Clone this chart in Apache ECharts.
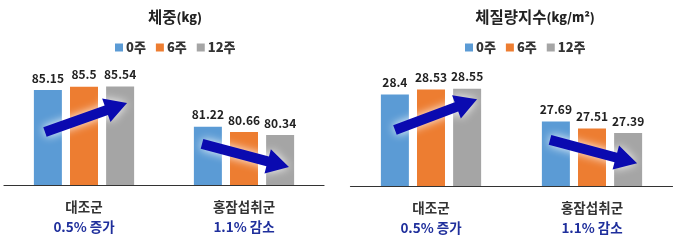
<!DOCTYPE html>
<html><head><meta charset="utf-8">
<script src="https://cdn.jsdelivr.net/npm/echarts@6/dist/echarts.min.js"></script>
<style>html,body{margin:0;padding:0;background:#fff}#c{width:680px;height:240px}</style>
</head><body><div id="c"></div>
<script>
const categories = ['대조군', '홍잠섭취군'];
const changeLabels = ['0.5% 증가', '1.1% 감소'];
const seriesNames = ['0주', '6주', '12주'];
const weight0 = [85.15, 81.22];
const weight6 = [85.5, 80.66];
const weight12 = [85.54, 80.34];
const bmi0 = [28.4, 27.69];
const bmi6 = [28.53, 27.51];
const bmi12 = [28.55, 27.39];
// arrow annotations: [category index, offset in band fraction, value]
const arrowsLeft = [
  [[0, -0.244, 80.67], [0, 0.269, 83.77]],
  [[1, -0.2625, 79.39], [1, 0.281, 76.93]]
];
const arrowsRight = [
  [[0, -0.224, 27.47], [0, 0.286, 28.28]],
  [[1, -0.261, 27.21], [1, 0.28, 26.60]]
];
const colors = ['#5B9BD5', '#ED7D31', '#A5A5A5'];
const FONT = 'Noto Sans CJK KR';

const chart = echarts.init(document.getElementById('c'), null, {renderer: 'canvas'});

function bar(name, data, idx) {
  return {
    name, type: 'bar', data, xAxisIndex: idx, yAxisIndex: idx,
    barWidth: 28, barGap: '29%',
    itemStyle: {color: colors[seriesNames.indexOf(name)]},
    label: {show: true, position: 'top', distance: 6, color: '#222', fontSize: 12, fontWeight: 'bold', fontFamily: FONT},
    emphasis: {disabled: true}, animation: false
  };
}
const xAxisCommon = {
  type: 'category', data: categories,
  axisLine: {lineStyle: {color: '#333', width: 1.2}},
  axisTick: {show: false},
  axisLabel: {
    margin: 12, fontFamily: FONT, fontWeight: 'bold', fontSize: 13,
    formatter: (v, i) => '{a|' + v + '}\n{b|' + changeLabels[i] + '}',
    rich: {
      a: {fontSize: 13.5, fontWeight: 'bold', color: '#333', lineHeight: 20, fontFamily: FONT},
      b: {fontSize: 13.5, fontWeight: 'bold', color: '#1f2f9c', lineHeight: 20, fontFamily: FONT}
    }
  }
};
const yAxisCommon = {type: 'value', show: false, splitLine: {show: false}};
const legendCommon = {
  data: seriesNames, top: 36, itemWidth: 8, itemHeight: 8, itemGap: 10,
  icon: 'rect', selectedMode: false,
  textStyle: {fontSize: 13, fontWeight: 900, color: '#333', fontFamily: FONT, padding: [0, 0, 0, -2]}
};
const titleRich = {
  a: {fontSize: 15.5, fontWeight: 'bold', color: '#222', fontFamily: FONT},
  b: {fontSize: 12.5, fontWeight: 900, color: '#222', fontFamily: FONT}
};
chart.setOption({
  animation: false,
  title: [
    {text: '{a|체중}{b|(kg)}', left: 170, top: 4, textAlign: 'center', textStyle: {fontWeight: 'bold', fontFamily: FONT, rich: titleRich}},
    {text: '{a|체질량지수}{b|(kg/m²)}', left: 530, top: 4, textAlign: 'center', textStyle: {fontWeight: 'bold', fontFamily: FONT, rich: titleRich}}
  ],
  legend: [
    Object.assign({left: 110}, legendCommon),
    Object.assign({left: 460}, legendCommon)
  ],
  grid: [
    {left: 4, width: 320, top: 72.8, bottom: 55},
    {left: 350.5, width: 322, top: 71.7, bottom: 54}
  ],
  xAxis: [Object.assign({gridIndex: 0}, xAxisCommon), Object.assign({gridIndex: 1}, xAxisCommon)],
  yAxis: [
    Object.assign({gridIndex: 0, min: 75, max: 87}, yAxisCommon),
    Object.assign({gridIndex: 1, min: 26, max: 29}, yAxisCommon)
  ],
  series: [
    bar('0주', weight0, 0), bar('6주', weight6, 0), bar('12주', weight12, 0),
    bar('0주', bmi0, 1), bar('6주', bmi6, 1), bar('12주', bmi12, 1)
  ]
});

function toPx(gridIndex, pt) {
  const c0 = chart.convertToPixel({gridIndex}, [0, 0])[0];
  const c1 = chart.convertToPixel({gridIndex}, [1, 0])[0];
  const band = c1 - c0;
  const p = chart.convertToPixel({gridIndex}, [pt[0], pt[2]]);
  return [p[0] + pt[1] * band, p[1]];
}
function arrowShape(P, Q) {
  const dx = Q[0] - P[0], dy = Q[1] - P[1];
  const len = Math.hypot(dx, dy);
  const d = [dx / len, dy / len], n = [-d[1], d[0]];
  const w = 5, h = 12.5, L = 22;
  const B = [Q[0] - d[0] * L, Q[1] - d[1] * L];
  const f = (o, s, k) => [o[0] + n[0] * s * k, o[1] + n[1] * s * k];
  return [f(P, w, 1), f(B, w, 1), f(B, h, 1), Q, f(B, h, -1), f(B, w, -1), f(P, w, -1)];
}
const graphics = [];
[[0, arrowsLeft], [1, arrowsRight]].forEach(([g, list]) => {
  list.forEach(a => {
    const P = toPx(g, a[0]), Q = toPx(g, a[1]);
    graphics.push({
      type: 'polygon', shape: {points: arrowShape(P, Q)}, z: 100,
      style: {fill: '#0a0ab0', shadowBlur: 10, shadowColor: 'rgba(255,255,255,0.95)'}
    });
  });
});
chart.setOption({graphic: graphics});
</script></body></html>
